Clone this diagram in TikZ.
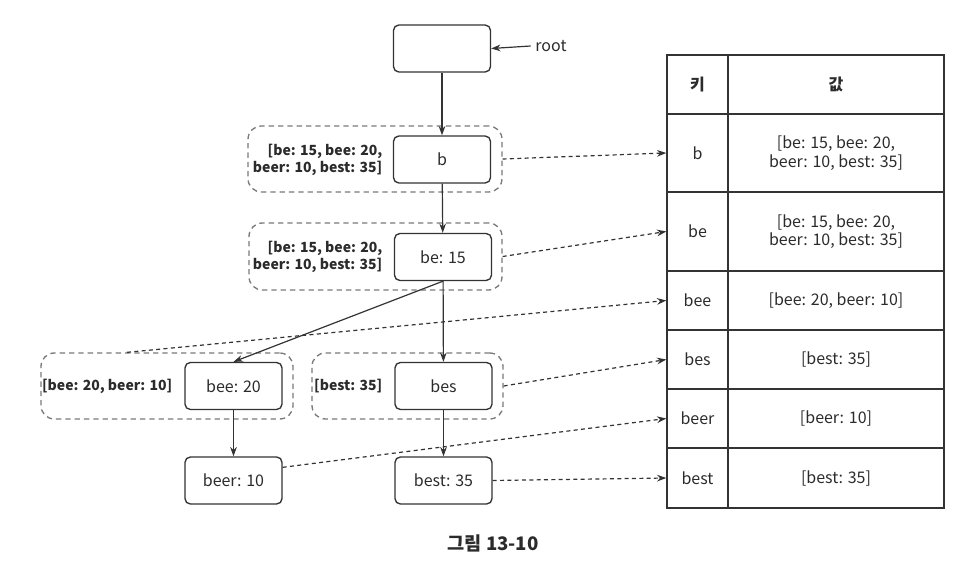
\documentclass[tikz,border=0pt]{standalone}
\usepackage{fontspec}
\setmainfont{Noto Sans CJK KR}
\usetikzlibrary{arrows.meta}

\begin{document}
\begin{tikzpicture}[x=0.75pt, y=-0.75pt, font=\fontsize{12}{14}\selectfont,
    caja/.style={draw=linea, rounded corners=4pt, line width=1pt, minimum width=72.75pt,
        minimum height=35.25pt, inner sep=0pt, text=texto},
    grupo/.style={draw=gris, dashed, dash pattern=on 4pt off 3pt, rounded corners=10pt,
        line width=1pt, inner sep=0pt},
    etiq/.style={anchor=east, font=\bfseries\fontsize{10.5}{12.5}\selectfont, align=right, text=texto},
    celda/.style={draw=linea, line width=1pt, inner sep=0pt, align=center, text=texto},
    flecha/.style={-{Stealth[length=7pt, width=5pt]}, line width=0.9pt, draw=linea},
    enlace/.style={flecha, dash pattern=on 3pt off 2.5pt}]
    % --- Colores ---
    \definecolor{linea}{HTML}{333333} \definecolor{texto}{HTML}{2B2B2B}
    \definecolor{gris}{HTML}{7A7A7A}

    \useasboundingbox (0,0) rectangle (976,574);

    % --- Grupos punteados con la lista de cada nodo ---
    \node[grupo, minimum width=190.5pt, minimum height=49.5pt] (g-b) at (375,159) {};
    \node[grupo, minimum width=189.75pt, minimum height=50.25pt] (g-be) at (375.5,256.5) {};
    \node[grupo, minimum width=189pt, minimum height=49.5pt] (g-bee) at (167,386) {};
    \node[grupo, minimum width=143.25pt, minimum height=49.5pt] (g-bes) at (407.5,386) {};

    \node[etiq] (l-b) at (387,160) {[be: 15, bee: 20,\\beer: 10, best: 35]};
    \node[etiq] (l-be) at (387,257) {[be: 15, bee: 20,\\beer: 10, best: 35]};
    \node[etiq] (l-bee) at (177,386) {[bee: 20, beer: 10]};
    \node[etiq] (l-bes) at (387,386) {[best: 35]};

    % --- Nodos del trie ---
    \node[caja] (n-root) at (442,48.5) {};
    \node[caja] (n-b) at (442,159.5) {b};
    \node[caja] (n-be) at (443,257) {be: 15};
    \node[caja] (n-bee) at (233.5,386) {bee: 20};
    \node[caja] (n-bes) at (443.5,386) {bes};
    \node[caja] (n-beer) at (233.5,480.5) {beer: 10};
    \node[caja] (n-best) at (443.5,480.5) {best: 35};

    \node[text=texto] (l-root) at (551,46) {root};
    \draw[flecha] (l-root.west) -- (n-root.east);

    % --- Aristas ---
    \draw[flecha] (n-root) -- (n-b);
    \draw[flecha] (n-b) -- (n-be);
    \draw[flecha] (n-be.south) -- (n-bee.north);
    \draw[flecha] (n-be) -- (n-bes);
    \draw[flecha] (n-bee) -- (n-beer);
    \draw[flecha] (n-bes) -- (n-best);

    % --- Tabla clave / valor ---
    \node[celda, minimum width=45.75pt, minimum height=44.25pt] (k-head) at (697.5,84.5) {\textbf{키}};
    \node[celda, minimum width=162pt, minimum height=44.25pt] (v-head) at (836,84.5) {\textbf{값}};
    \foreach \k/\v/\t/\b in {b/{[be: 15, bee: 20,\\beer: 10, best: 35]}/114/192,
                             be/{[be: 15, bee: 20,\\beer: 10, best: 35]}/192/271,
                             bee/{[bee: 20, beer: 10]}/271/330,
                             bes/{[best: 35]}/330/389,
                             beer/{[beer: 10]}/389/448,
                             best/{[best: 35]}/448/508} {
        \node[celda, minimum width=45.75pt, minimum height={(\b-\t)*0.75pt}]
            (k-\k) at (697.5,{(\t+\b)/2}) {\k};
        \node[celda, minimum width=162pt, minimum height={(\b-\t)*0.75pt}]
            (v-\k) at (836,{(\t+\b)/2}) {\v};
    }

    % --- Enlaces punteados hacia la tabla ---
    \draw[enlace] (g-b.east) -- (k-b.west);
    \draw[enlace] (g-be.east) -- (k-be.west);
    \draw[enlace] ([xshift=-30pt]g-bee.north) -- (k-bee.west);
    \draw[enlace] (g-bes.east) -- (k-bes.west);
    \draw[enlace] (n-beer.15) -- (k-beer.west);
    \draw[enlace] (n-best.east) -- (k-best.west);

    % --- Pie de figura ---
    \node[font=\bfseries\fontsize{14}{16}\selectfont, text=texto] (pie) at (493,543) {그림 13-10};
\end{tikzpicture}
\end{document}
